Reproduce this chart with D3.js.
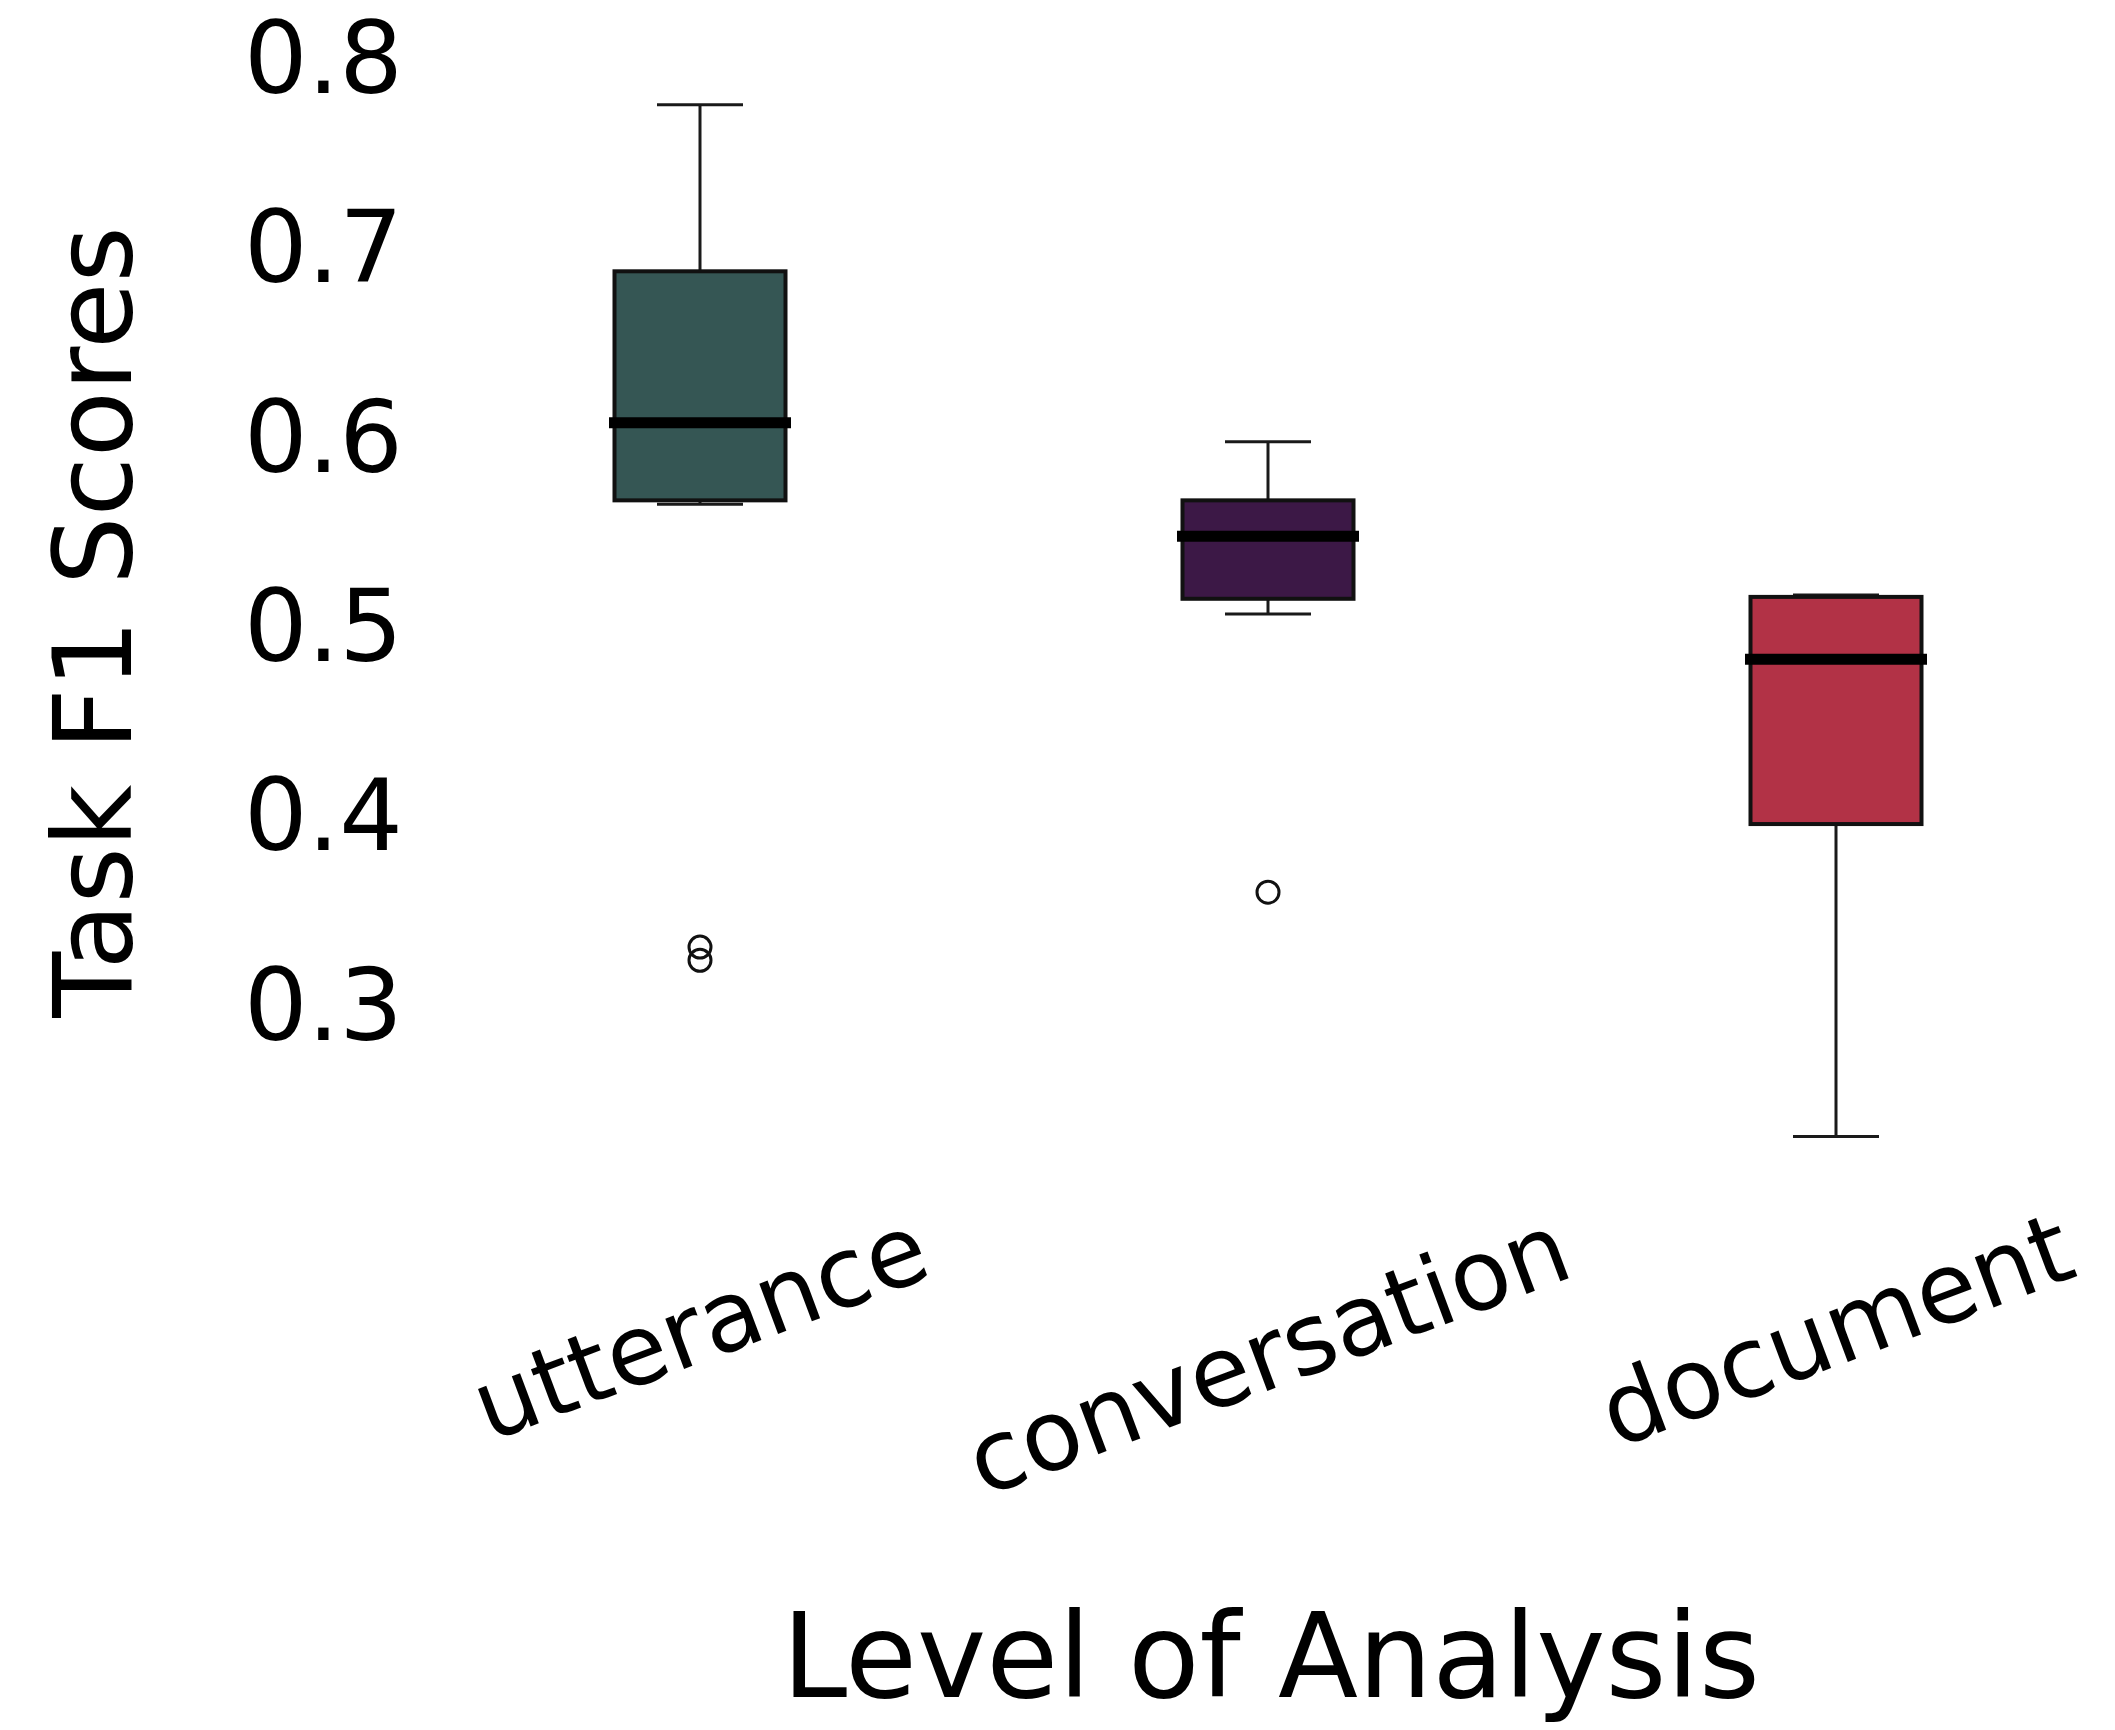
<!DOCTYPE html>
<html>
<head>
<meta charset="utf-8">
<script src="https://cdn.jsdelivr.net/npm/d3@7"></script>
<style>
  html, body { margin: 0; padding: 0; background: #ffffff; }
  svg { display: block; }
  text { font-family: "DejaVu Sans", sans-serif; fill: #000; }
</style>
</head>
<body>
<svg id="chart" width="2115" height="1730"></svg>
<script>
// ---- data ----
const categories  = ["utterance", "conversation", "document"];
const whiskerHigh = [0.774, 0.596, 0.515];
const q3Values    = [0.686, 0.565, 0.514];
const medians     = [0.606, 0.546, 0.481];
const q1Values    = [0.565, 0.513, 0.394];
const whiskerLow  = [0.563, 0.505, 0.229];
const outliers    = [[0.329, 0.322], [0.358], []];
const boxColors   = ["#355654", "#3c1846", "#b23246"];
const yTicks      = [0.3, 0.4, 0.5, 0.6, 0.7, 0.8];
const yTitle      = "Task F1 Scores";
const xTitle      = "Level of Analysis";

const svg = d3.select("#chart");
svg.append("rect").attr("width", 2115).attr("height", 1730).attr("fill", "#fff");

const x = d3.scalePoint().domain(categories).range([700, 1836]);
const y = d3.scaleLinear().domain([0.3, 0.8]).range([1002, 55.5]);

const boxW = 171, capW = 86;

const rows = categories.map((c, i) => ({
  cat: c, hi: whiskerHigh[i], q3: q3Values[i], med: medians[i],
  q1: q1Values[i], lo: whiskerLow[i], out: outliers[i], color: boxColors[i]
}));

const g = svg.append("g");
const box = g.selectAll("g.box").data(rows).join("g").attr("class", "box");

// whiskers
box.append("line")
  .attr("x1", d => x(d.cat)).attr("x2", d => x(d.cat))
  .attr("y1", d => y(d.q3)).attr("y2", d => y(d.hi))
  .attr("stroke", "#1a1a1a").attr("stroke-width", 3);
box.append("line")
  .attr("x1", d => x(d.cat)).attr("x2", d => x(d.cat))
  .attr("y1", d => y(d.q1)).attr("y2", d => y(d.lo))
  .attr("stroke", "#1a1a1a").attr("stroke-width", 3);
// caps
box.append("line")
  .attr("x1", d => x(d.cat) - capW / 2).attr("x2", d => x(d.cat) + capW / 2)
  .attr("y1", d => y(d.hi)).attr("y2", d => y(d.hi))
  .attr("stroke", "#1a1a1a").attr("stroke-width", 3);
box.append("line")
  .attr("x1", d => x(d.cat) - capW / 2).attr("x2", d => x(d.cat) + capW / 2)
  .attr("y1", d => y(d.lo)).attr("y2", d => y(d.lo))
  .attr("stroke", "#1a1a1a").attr("stroke-width", 3);
// boxes
box.append("rect")
  .attr("x", d => x(d.cat) - boxW / 2).attr("width", boxW)
  .attr("y", d => y(d.q3)).attr("height", d => y(d.q1) - y(d.q3))
  .attr("fill", d => d.color).attr("stroke", "#111").attr("stroke-width", 4);
// medians
box.append("line")
  .attr("x1", d => x(d.cat) - boxW / 2).attr("x2", d => x(d.cat) + boxW / 2)
  .attr("y1", d => y(d.med)).attr("y2", d => y(d.med))
  .attr("stroke", "#000").attr("stroke-width", 11).attr("stroke-linecap", "square");
// outliers
box.selectAll("circle").data(d => d.out.map(v => ({ cat: d.cat, v })))
  .join("circle")
  .attr("cx", d => x(d.cat)).attr("cy", d => y(d.v)).attr("r", 11)
  .attr("fill", "none").attr("stroke", "#111").attr("stroke-width", 3);

// y axis (no line, no tick marks)
const yAxis = svg.append("g").attr("transform", "translate(413,0)")
  .call(d3.axisLeft(y).tickValues(yTicks).tickSize(0).tickPadding(10).tickFormat(d3.format(".1f")));
yAxis.select(".domain").remove();
yAxis.selectAll("text")
  .style("font-family", "DejaVu Sans, sans-serif")
  .attr("font-size", 100).attr("fill", "#000").attr("dy", "0.37em");

// x tick labels: rotated 20deg, rotated bbox centred on tick, top at fixed y
const labelTop = 1190;
categories.forEach(c => {
  const gl = svg.append("g");
  gl.append("text").text(c)
    .attr("font-size", 98).attr("text-anchor", "middle")
    .attr("dominant-baseline", "central")
    .attr("transform", "rotate(-20.5)");
  const bb = gl.node().getBBox();
  gl.attr("transform", `translate(${x(c) - (bb.x + bb.width / 2)},${labelTop - bb.y})`);
});

// axis titles
svg.append("text").text(yTitle)
  .attr("font-size", 108).attr("text-anchor", "middle")
  .attr("transform", "translate(131,622) rotate(-90)");
svg.append("text").text(xTitle)
  .attr("font-size", 117).attr("text-anchor", "middle")
  .attr("x", 1271).attr("y", 1697);
</script>
</body>
</html>
